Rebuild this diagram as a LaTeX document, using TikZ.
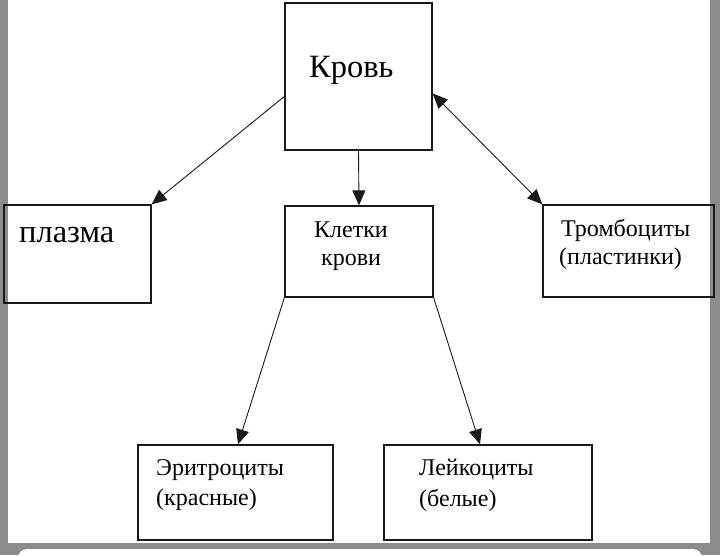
\documentclass[tikz,border=0pt]{standalone}
\usepackage{fontspec}
\setmainfont{Liberation Serif}
\usetikzlibrary{arrows.meta}
\definecolor{framegray}{RGB}{140,140,140}
\definecolor{linegray}{RGB}{25,25,25}
\begin{document}
\begin{tikzpicture}[x=1pt,y=-1pt,
  box/.style={draw=linegray, line width=1.3pt, rectangle, inner sep=0pt},
  conn/.style={draw=linegray, line width=0.9pt, -{Triangle[length=15pt,width=13pt]}},
  dconn/.style={draw=linegray, line width=0.9pt, {Triangle[length=15pt,width=13pt]}-{Triangle[length=15pt,width=13pt]}},
  lbl/.style={font=\fontsize{24}{29}\selectfont, anchor=base west, inner sep=0pt},
  biglbl/.style={font=\fontsize{32.5}{38}\selectfont, anchor=base west, inner sep=0pt}]
\useasboundingbox (0,0) rectangle (720,555);
\fill[framegray] (0,0) rectangle (720,555);
\fill[white] (8,0) rectangle (710,543);
\begin{scope}
\clip (0,0) rectangle (720,555);
\fill[white, rounded corners=9pt] (18,549) rectangle (702,580);
\end{scope}
% boxes
\node[box, minimum width=147pt, minimum height=147pt] (krov) at (358.5,76.5) {};
\node[box, minimum width=147pt, minimum height=98pt] (plazma) at (77.5,254) {};
\node[box, minimum width=148pt, minimum height=91pt] (kletki) at (359,251.5) {};
\node[box, minimum width=171pt, minimum height=92pt] (tromb) at (628.5,251) {};
\node[box, minimum width=195pt, minimum height=95pt] (erit) at (235.5,492.5) {};
\node[box, minimum width=208pt, minimum height=95pt] (leik) at (488,492.5) {};
% texts
\node[biglbl] (tkrov) at (309,77) {Кровь};
\node[biglbl] (tplazma) at (19,242) {плазма};
\node[lbl] (tkl1) at (314,237) {Клетки};
\node[lbl] (tkl2) at (321,265) {крови};
\node[lbl] (ttr1) at (561,236) {Тромбоциты};
\node[lbl] (ttr2) at (559,264) {(пластинки)};
\node[lbl] (ter1) at (156,475) {Эритроциты};
\node[lbl] (ter2) at (156,505) {(красные)};
\node[lbl] (tle1) at (419,475) {Лейкоциты};
\node[lbl] (tle2) at (419,506) {(белые)};
% connectors
\draw[conn] ([yshift=-20pt]krov.west) -- (plazma.north east);
\draw[conn] (krov.south) -- (kletki.north);
\draw[dconn] ([yshift=-17pt]krov.east) -- (tromb.north west);
\draw[conn] (kletki.south west) -- ([xshift=2.5pt]erit.north);
\draw[conn] (kletki.south east) -- ([xshift=-8pt]leik.north);
\end{tikzpicture}
\end{document}
